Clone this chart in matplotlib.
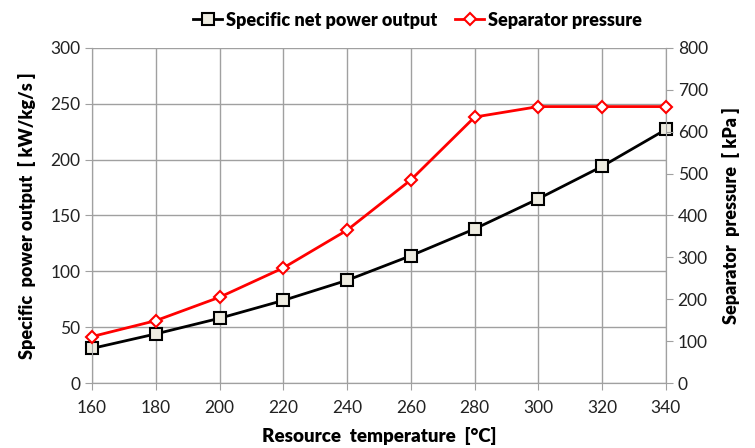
import matplotlib.pyplot as plt

# donnees
temperature = [160, 180, 200, 220, 240, 260, 280, 300, 320, 340]
net_power = [31, 44, 58, 74, 92, 114, 138, 165, 194, 227]
sep_pressure = [111, 149, 205, 275, 365, 485, 635, 660, 660, 660]

plt.rcParams['font.family'] = ['Lato', 'DejaVu Sans']

fig = plt.figure(figsize=(7.55, 4.48), dpi=100)
ax = fig.add_axes([0.122, 0.145, 0.76, 0.748])
ax2 = ax.twinx()

grid_c = '#a0a0a0'
ax.plot(temperature, net_power, color='black', lw=2, marker='s', ms=8,
        mfc='#eeece1', mec='black', mew=1.5, label='Specific net power output',
        zorder=5, clip_on=False)
ax2.plot(temperature, sep_pressure, color='red', lw=2, marker='D', ms=6.5,
         mfc='white', mec='red', mew=1.5, label='Separator pressure',
         zorder=5, clip_on=False)

ax.set_xlim(160, 340)
ax.set_ylim(0, 300)
ax2.set_ylim(0, 800)
ax.set_xticks(range(160, 341, 20))
ax.set_yticks(range(0, 301, 50))
ax2.set_yticks(range(0, 801, 100))
ax.grid(True, color=grid_c, lw=1)
ax.set_axisbelow(True)

for a in (ax, ax2):
    for s in a.spines.values():
        s.set_color(grid_c)
    a.spines['top'].set_visible(False)
    a.tick_params(colors=grid_c, labelcolor='#222222', labelsize=12.5, length=5)
ax.tick_params(axis='x', pad=7)

ax.set_xlabel('Resource  temperature  [°C]', fontsize=13.5, fontweight='heavy', labelpad=8)
ax.set_ylabel('Specific  power output  [ kW/kg/s ]', fontsize=13, fontweight='heavy', labelpad=10)
ax2.set_ylabel('Separator  pressure  [ kPa ]', fontsize=13, fontweight='heavy', labelpad=10)

h1, l1 = ax.get_legend_handles_labels()
h2, l2 = ax2.get_legend_handles_labels()
fig.legend(h1 + h2, l1 + l2, loc='upper center', bbox_to_anchor=(0.553, 1.01), ncol=2,
           frameon=False, prop={'size': 13, 'weight': 'heavy'}, handlelength=1.6,
           handletextpad=0.2, columnspacing=1.0)

fig.savefig('out.png', dpi=100)
